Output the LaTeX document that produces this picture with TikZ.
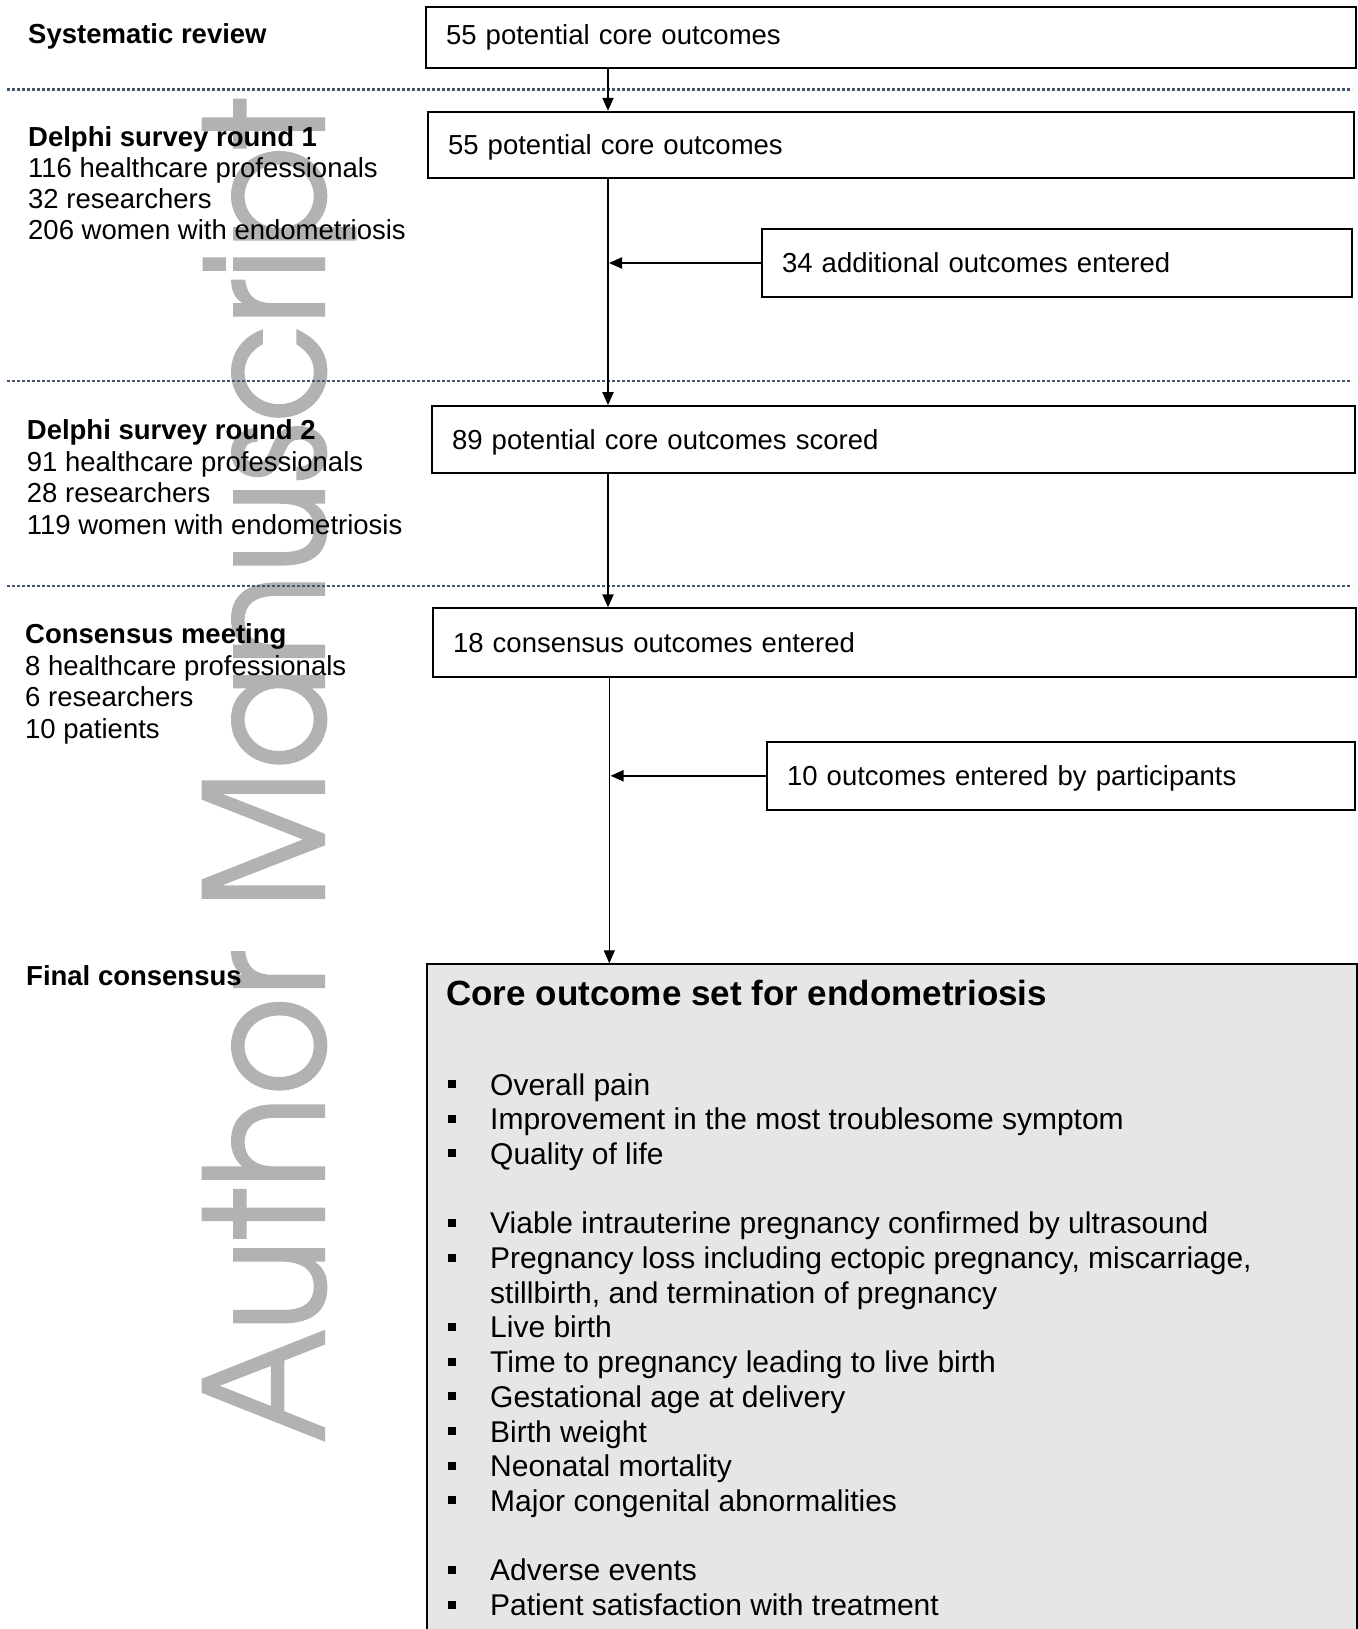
\documentclass[tikz,border=0pt]{standalone}
\usepackage{fontspec}
\usepackage{graphicx}
\setmainfont{Liberation Sans}
\newfontface\wmfont[FakeBold=1.5]{texgyreadventor-regular.otf}
\usetikzlibrary{arrows.meta}
\definecolor{dotcol}{HTML}{44546A}
\definecolor{wmgray}{HTML}{B2B2B2}
\definecolor{boxfill}{HTML}{E6E6E6}
\begin{document}
\begin{tikzpicture}[x=1pt,y=-1pt,
  box/.style={draw, line width=1.8pt, rectangle, inner xsep=20pt, inner ysep=0pt,
    align=left, font=\fontsize{27.5}{31.5}\selectfont, text height=19.7pt, text depth=0pt},
  lbl/.style={anchor=base west, inner sep=0pt, font=\fontsize{27.5}{31.5}\selectfont},
  lblb/.style={lbl, font=\fontsize{27.5}{31.5}\selectfont\bfseries},
  item/.style={anchor=base west, inner sep=0pt, font=\fontsize{30}{34.7}\selectfont},
  sep/.style={draw=dotcol, line width=2.5pt, dash pattern=on 3pt off 2pt},
  arr/.style={line width=2pt, -{Triangle[length=13pt,width=11pt]}},
  thinarr/.style={line width=1.1pt, -{Triangle[length=13pt,width=11pt]}}
]
\useasboundingbox (0,0) rectangle (1357,1629);

% watermark
\node[rotate=90, anchor=base west, inner sep=0pt, text=wmgray] (wm) at (324,1442)
  {\resizebox{1343pt}{121pt}{\wmfont Author Manuscript}};

% separators
\coordinate (sl1) at (7,89.5);  \coordinate (sr1) at (1352,89.5);
\coordinate (sl2) at (7,381);   \coordinate (sr2) at (1352,381);
\coordinate (sl3) at (7,586);   \coordinate (sr3) at (1352,586);
\draw[sep] (sl1) -- (sr1);
\draw[sep] (sl2) -- (sr2);
\draw[sep] (sl3) -- (sr3);

% left labels
\node[lblb] (t1) at (28,43.3) {Systematic review};
\node[lblb] (t2) at (28,146.7) {Delphi survey round 1};
\node[lbl] (t2a) at (28,177.5) {116 healthcare professionals};
\node[lbl] (t2b) at (28,208.5) {32 researchers};
\node[lbl] (t2c) at (28,240) {206 women with endometriosis};
\node[lblb] (t3) at (26.7,439.3) {Delphi survey round 2};
\node[lbl] (t3a) at (26.7,471) {91 healthcare professionals};
\node[lbl] (t3b) at (26.7,502.5) {28 researchers};
\node[lbl] (t3c) at (26.7,534) {119 women with endometriosis};
\node[lblb] (t4) at (25,643.3) {Consensus meeting};
\node[lbl] (t4a) at (25,675) {8 healthcare professionals};
\node[lbl] (t4b) at (25,706.5) {6 researchers};
\node[lbl] (t4c) at (25,738) {10 patients};
\node[lblb] (t5) at (26,985) {Final consensus};

% boxes
\node[box, text width=890pt, minimum height=61pt, text depth=6pt] (A) at (891,37.5) {55 potential core outcomes};
\node[box, text width=886pt, minimum height=66.6pt] (B) at (891,145) {55 potential core outcomes};
\node[box, text width=550pt, minimum height=67.4pt] (C) at (1057,263) {34 additional outcomes entered};
\node[box, text width=883pt, minimum height=67.3pt] (D) at (893.5,439.7) {89 potential core outcomes scored};
\node[box, text width=883pt, minimum height=68.4pt] (E) at (894.5,642.5) {18 consensus outcomes entered};
\node[box, text width=548pt, minimum height=68.3pt] (G) at (1061,775.8) {10 outcomes entered by participants};
\node[draw, line width=1.8pt, fill=boxfill, rectangle, anchor=north west, inner sep=0pt,
  minimum width=930pt, minimum height=720pt] (F) at (426,963.3) {};

% connectors
\coordinate (mx) at (608,0);
\coordinate (mt) at (609.3,0);
\coordinate (tipC) at (609,263);
\coordinate (tipG) at (610.5,775.8);
\draw[arr] (A.south -| mx) -- (B.north -| mx);
\draw[arr] (B.south -| mx) -- (D.north -| mx);
\draw[arr] (D.south -| mx) -- (E.north -| mx);
\draw[thinarr] (E.south -| mt) -- (F.north -| mt);
\draw[arr] (C.west) -- (tipC);
\draw[arr] (G.west) -- (tipG);

% core outcome set
\node[anchor=base west, inner sep=0pt, font=\fontsize{35}{40}\selectfont\bfseries] (ttl) at (446,1005)
  {Core outcome set for endometriosis};
\foreach \k/\t/\b in {0/{Overall pain}/1,
  1/{Improvement in the most troublesome symptom}/1,
  2/{Quality of life}/1,
  4/{Viable intrauterine pregnancy confirmed by ultrasound}/1,
  5/{Pregnancy loss including ectopic pregnancy, miscarriage,}/1,
  6/{stillbirth, and termination of pregnancy}/0,
  7/{Live birth}/1,
  8/{Time to pregnancy leading to live birth}/1,
  9/{Gestational age at delivery}/1,
  10/{Birth weight}/1,
  11/{Neonatal mortality}/1,
  12/{Major congenital abnormalities}/1,
  14/{Adverse events}/1,
  15/{Patient satisfaction with treatment}/1}{
  \pgfmathsetmacro\bl{1095+34.7*\k}
  \node[item] (it\k) at (490,\bl) {\t};
  \ifnum\b=1
    \fill (448,{\bl-15}) rectangle (456,{\bl-7});
  \fi
}
\end{tikzpicture}
\end{document}
